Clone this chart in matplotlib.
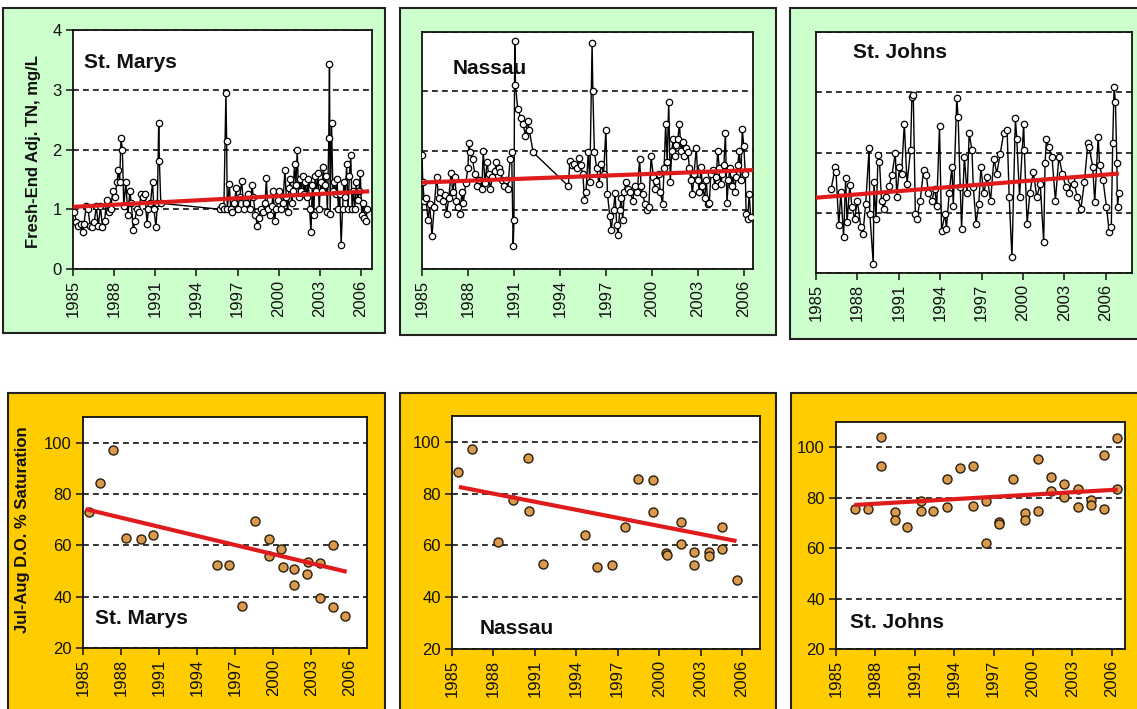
import matplotlib
matplotlib.use('Agg')
import numpy as np
import matplotlib.pyplot as plt
from matplotlib.patches import Rectangle

plt.rcParams['font.family'] = ['Liberation Sans', 'DejaVu Sans']

# ---- data ----
# fresh-end adjusted TN (mg/L): (decimal year, value)
st_marys_tn = [
    (1985.10, 0.95), (1985.25, 0.78), (1985.40, 0.72), (1985.55, 0.75), (1985.70, 0.62), (1985.80, 0.75),
    (1985.95, 1.05), (1986.10, 1.00), (1986.25, 0.72), (1986.40, 0.70), (1986.55, 0.78), (1986.70, 1.05),
    (1986.85, 0.72), (1987.00, 1.05), (1987.15, 0.70), (1987.30, 0.80), (1987.45, 1.15), (1987.60, 0.95),
    (1987.75, 1.00), (1987.90, 1.30), (1988.05, 1.20), (1988.20, 1.45), (1988.30, 1.65), (1988.40, 1.45),
    (1988.50, 2.20), (1988.60, 2.00), (1988.70, 1.05), (1988.85, 1.45), (1989.00, 0.90), (1989.15, 1.30),
    (1989.25, 1.10), (1989.40, 0.65), (1989.50, 0.80), (1989.65, 1.00), (1989.80, 0.95), (1989.95, 1.25),
    (1990.10, 1.20), (1990.25, 1.25), (1990.40, 0.75), (1990.50, 1.00), (1990.65, 1.10), (1990.80, 1.45),
    (1990.90, 1.00), (1991.05, 0.70), (1991.15, 1.10), (1991.25, 2.45), (1991.30, 1.80), (1991.40, 1.10),
    (1995.70, 1.00), (1995.85, 1.05), (1996.00, 1.00), (1996.15, 2.95), (1996.20, 2.15), (1996.25, 1.00),
    (1996.40, 1.42), (1996.50, 1.00), (1996.60, 0.95), (1996.75, 1.10), (1996.90, 1.35), (1997.00, 1.00),
    (1997.15, 1.20), (1997.30, 1.47), (1997.45, 1.00), (1997.60, 1.10), (1997.75, 1.25), (1997.90, 1.00),
    (1998.05, 1.40), (1998.15, 1.20), (1998.30, 0.90), (1998.45, 0.72), (1998.55, 0.85), (1998.70, 1.00),
    (1998.85, 0.95), (1999.00, 1.10), (1999.10, 1.52), (1999.20, 1.00), (1999.35, 0.90), (1999.50, 1.05),
    (1999.60, 1.30), (1999.70, 0.80), (1999.80, 1.00), (1999.95, 1.15), (2000.05, 1.30), (2000.15, 1.00),
    (2000.30, 1.10), (2000.45, 1.65), (2000.55, 1.20), (2000.65, 0.95), (2000.75, 1.35), (2000.85, 1.50),
    (2000.95, 1.10), (2001.05, 1.30), (2001.15, 1.75), (2001.25, 1.40), (2001.35, 2.00), (2001.45, 1.20),
    (2001.55, 1.50), (2001.65, 1.30), (2001.75, 1.55), (2001.85, 1.25), (2001.95, 1.45), (2002.05, 1.20),
    (2002.15, 1.50), (2002.25, 1.00), (2002.35, 0.62), (2002.45, 1.40), (2002.55, 0.90), (2002.65, 1.55),
    (2002.75, 1.30), (2002.85, 1.60), (2002.95, 1.00), (2003.05, 1.45), (2003.15, 1.30), (2003.25, 1.70),
    (2003.35, 1.40), (2003.45, 1.55), (2003.55, 0.95), (2003.65, 2.20), (2003.70, 3.43), (2003.75, 0.92),
    (2003.85, 2.45), (2003.95, 1.30), (2004.05, 1.45), (2004.15, 1.25), (2004.25, 1.50), (2004.35, 1.00),
    (2004.45, 1.25), (2004.55, 0.40), (2004.65, 1.00), (2004.75, 1.45), (2004.85, 1.20), (2004.95, 1.75),
    (2005.05, 1.00), (2005.15, 1.55), (2005.25, 1.90), (2005.35, 1.00), (2005.45, 1.30), (2005.55, 1.00),
    (2005.65, 1.45), (2005.75, 1.15), (2005.85, 1.30), (2005.95, 1.60), (2006.05, 0.90), (2006.15, 1.10),
    (2006.25, 0.85), (2006.35, 0.80), (2006.45, 1.00),
]
nassau_tn = [
    (1985.00, 1.93), (1985.05, 1.46), (1985.15, 1.15), (1985.25, 1.20), (1985.40, 0.82), (1985.50, 1.10),
    (1985.65, 0.56), (1985.80, 1.05), (1985.95, 1.55), (1986.10, 1.20), (1986.20, 1.30), (1986.35, 1.15),
    (1986.50, 1.25), (1986.60, 0.93), (1986.75, 1.20), (1986.90, 1.62), (1987.00, 1.30), (1987.15, 1.55),
    (1987.25, 1.15), (1987.35, 1.05), (1987.50, 0.93), (1987.60, 1.30), (1987.70, 1.12), (1987.85, 1.45),
    (1988.00, 1.70), (1988.05, 2.13), (1988.15, 1.97), (1988.30, 1.85), (1988.45, 1.60), (1988.60, 1.40),
    (1988.75, 1.50), (1988.90, 1.35), (1989.00, 2.00), (1989.10, 1.45), (1989.25, 1.80), (1989.35, 1.60),
    (1989.45, 1.35), (1989.60, 1.55), (1989.75, 1.65), (1989.85, 1.80), (1990.00, 1.70), (1990.10, 1.63),
    (1990.25, 1.50), (1990.35, 1.40), (1990.50, 1.50), (1990.60, 1.35), (1990.75, 1.85), (1990.85, 1.97),
    (1990.95, 0.38), (1991.00, 0.82), (1991.05, 3.84), (1991.10, 3.10), (1991.25, 2.70), (1991.45, 2.55),
    (1991.60, 2.45), (1991.75, 2.25), (1991.90, 2.50), (1992.00, 2.35), (1992.25, 1.97), (1994.55, 1.40),
    (1994.65, 1.82), (1994.80, 1.75), (1994.95, 1.78), (1995.10, 1.70), (1995.25, 1.88), (1995.35, 1.75),
    (1995.50, 1.60), (1995.60, 1.17), (1995.70, 1.30), (1995.85, 1.97), (1995.95, 1.46), (1996.10, 3.82),
    (1996.15, 3.00), (1996.25, 1.97), (1996.40, 1.70), (1996.55, 1.43), (1996.70, 1.78), (1996.85, 1.60),
    (1997.00, 2.35), (1997.10, 1.27), (1997.25, 0.90), (1997.35, 0.66), (1997.50, 1.00), (1997.60, 1.29),
    (1997.70, 0.75), (1997.80, 0.57), (1997.90, 1.00), (1998.00, 1.20), (1998.10, 0.82), (1998.20, 1.30),
    (1998.30, 1.46), (1998.45, 1.35), (1998.60, 1.30), (1998.75, 1.15), (1998.90, 1.40), (1999.05, 1.30),
    (1999.20, 1.85), (1999.30, 1.40), (1999.40, 1.27), (1999.55, 1.10), (1999.70, 0.99), (1999.80, 1.05),
    (1999.95, 1.90), (2000.10, 1.55), (2000.20, 1.35), (2000.30, 1.48), (2000.45, 1.60), (2000.55, 1.30),
    (2000.70, 1.10), (2000.80, 1.70), (2000.90, 2.45), (2001.00, 1.80), (2001.10, 2.82), (2001.20, 1.46),
    (2001.30, 2.00), (2001.40, 2.20), (2001.50, 1.90), (2001.60, 2.10), (2001.70, 2.20), (2001.80, 2.45),
    (2001.90, 2.00), (2002.00, 2.14), (2002.10, 1.90), (2002.25, 2.05), (2002.35, 1.98), (2002.45, 1.70),
    (2002.55, 1.50), (2002.65, 1.27), (2002.75, 1.60), (2002.90, 2.05), (2003.00, 1.50), (2003.10, 1.30),
    (2003.20, 1.72), (2003.30, 1.40), (2003.45, 1.20), (2003.55, 1.50), (2003.65, 1.10), (2003.75, 1.12),
    (2003.85, 1.60), (2004.00, 1.67), (2004.10, 1.40), (2004.20, 1.55), (2004.30, 2.00), (2004.40, 1.70),
    (2004.50, 1.43), (2004.60, 1.60), (2004.70, 1.75), (2004.80, 2.30), (2004.90, 1.12), (2005.00, 1.50),
    (2005.10, 1.70), (2005.20, 1.40), (2005.30, 1.60), (2005.40, 1.30), (2005.50, 1.55), (2005.60, 1.75),
    (2005.70, 2.00), (2005.80, 1.50), (2005.90, 2.36), (2006.00, 2.07), (2006.10, 1.60), (2006.15, 0.93),
    (2006.25, 0.85), (2006.35, 1.27), (2006.45, 0.88),
]
st_johns_tn = [
    (1986.10, 1.40), (1986.40, 1.76), (1986.45, 1.68), (1986.65, 0.79), (1986.80, 1.34), (1987.00, 0.60),
    (1987.15, 1.57), (1987.25, 0.84), (1987.45, 1.46), (1987.60, 1.10), (1987.80, 0.90), (1988.00, 1.20),
    (1988.25, 0.76), (1988.40, 0.65), (1988.60, 1.15), (1988.85, 2.07), (1988.90, 0.98), (1989.15, 0.15),
    (1989.20, 1.51), (1989.35, 0.90), (1989.50, 1.96), (1989.60, 1.85), (1989.75, 1.20), (1989.90, 1.07),
    (1990.10, 1.26), (1990.30, 1.45), (1990.50, 1.62), (1990.75, 2.00), (1990.85, 1.26), (1991.05, 1.76),
    (1991.20, 1.65), (1991.40, 2.48), (1991.60, 1.48), (1991.85, 2.04), (1991.95, 2.92), (1992.05, 2.95),
    (1992.20, 0.98), (1992.30, 0.90), (1992.55, 1.20), (1992.80, 1.71), (1993.00, 1.62), (1993.15, 1.32),
    (1993.40, 1.20), (1993.60, 1.40), (1993.75, 1.12), (1993.95, 2.44), (1994.10, 0.70), (1994.35, 0.98),
    (1994.45, 0.73), (1994.65, 1.32), (1994.85, 1.76), (1994.95, 1.12), (1995.20, 2.90), (1995.30, 2.59),
    (1995.45, 1.43), (1995.55, 0.73), (1995.75, 1.93), (1995.95, 1.32), (1996.10, 2.32), (1996.30, 2.04),
    (1996.40, 1.43), (1996.60, 0.82), (1996.80, 1.15), (1996.95, 1.76), (1997.15, 1.32), (1997.40, 1.60),
    (1997.65, 1.20), (1997.90, 1.90), (1998.10, 1.65), (1998.35, 1.98), (1998.60, 2.32), (1998.85, 2.37),
    (1999.00, 1.26), (1999.20, 0.26), (1999.45, 2.57), (1999.55, 2.23), (1999.75, 1.26), (2000.05, 2.48),
    (2000.10, 2.04), (2000.30, 0.82), (2000.50, 1.32), (2000.75, 1.68), (2001.00, 1.26), (2001.25, 1.48),
    (2001.50, 0.51), (2001.60, 1.82), (2001.70, 2.23), (2001.85, 2.09), (2002.10, 1.93), (2002.35, 1.20),
    (2002.60, 1.93), (2002.85, 1.65), (2003.10, 1.43), (2003.35, 1.32), (2003.50, 1.55), (2003.70, 1.48),
    (2003.95, 1.26), (2004.20, 1.07), (2004.45, 1.51), (2004.70, 2.15), (2004.80, 2.09), (2005.05, 1.76),
    (2005.20, 1.18), (2005.45, 2.26), (2005.55, 1.79), (2005.80, 1.54), (2006.05, 1.10), (2006.25, 0.68),
    (2006.40, 0.76), (2006.50, 2.15), (2006.60, 3.08), (2006.70, 2.84), (2006.80, 1.82), (2006.85, 1.10),
    (2006.95, 1.32),
]
# trend line end points (year, TN)
st_marys_tn_trend = [(1985.0, 1.04), (2006.6, 1.30)]
nassau_tn_trend = [(1985.0, 1.46), (2006.6, 1.67)]
st_johns_tn_trend = [(1985.0, 1.25), (2006.95, 1.65)]

# Jul-Aug dissolved oxygen, % saturation
st_marys_do = [
    (1985.45, 73.0), (1986.35, 84.2), (1987.40, 97.0), (1988.40, 62.9), (1989.55, 62.5), (1990.55, 64.2),
    (1995.55, 52.2), (1996.50, 52.2), (1997.55, 36.5), (1998.60, 69.4), (1999.70, 62.5), (1999.70, 55.7),
    (2000.65, 58.4), (2000.75, 51.5), (2001.65, 50.8), (2001.65, 44.5), (2002.70, 48.8), (2002.75, 53.5),
    (2003.70, 53.0), (2003.70, 39.3), (2004.70, 60.0), (2004.70, 35.8), (2005.70, 32.3),
]
nassau_do = [
    (1985.40, 88.2), (1986.45, 97.3), (1988.35, 61.3), (1989.45, 77.6), (1990.50, 93.6), (1990.55, 73.3),
    (1991.60, 52.9), (1994.60, 64.1), (1995.50, 51.5), (1996.55, 52.3), (1997.50, 67.0), (1998.50, 85.6),
    (1999.55, 85.3), (1999.55, 72.8), (2000.50, 56.9), (2000.60, 56.5), (2001.60, 69.0), (2001.60, 60.6),
    (2002.55, 57.3), (2002.55, 52.3), (2003.60, 57.4), (2003.60, 55.8), (2004.55, 67.0), (2004.55, 58.7),
    (2005.60, 46.7),
]
st_johns_do = [
    (1986.45, 75.5), (1987.40, 75.5), (1988.45, 104.2), (1988.45, 92.5), (1989.50, 74.2), (1989.50, 71.2),
    (1990.40, 68.3), (1991.50, 78.8), (1991.50, 74.9), (1992.40, 74.9), (1993.45, 87.3), (1993.45, 76.2),
    (1994.45, 91.9), (1995.40, 92.5), (1995.40, 76.8), (1996.45, 78.8), (1996.45, 62.0), (1997.40, 70.2),
    (1997.40, 69.7), (1998.45, 87.3), (1999.40, 73.8), (1999.40, 71.2), (2000.35, 95.4), (2000.35, 74.9),
    (2001.40, 88.0), (2001.40, 82.7), (2002.35, 85.4), (2002.35, 80.4), (2003.45, 83.4), (2003.45, 76.4),
    (2004.40, 79.0), (2004.40, 77.1), (2005.40, 75.5), (2005.40, 97.0), (2006.40, 103.5), (2006.40, 83.4),
]
st_marys_do_trend = [(1985.2, 74.1), (2005.8, 49.7)]
nassau_do_trend = [(1985.5, 82.6), (2005.6, 61.7)]
st_johns_do_trend = [(1986.4, 77.1), (2006.45, 83.2)]

year_ticks = [1985, 1988, 1991, 1994, 1997, 2000, 2003, 2006]
tn_ticks = [0, 1, 2, 3, 4]
do_ticks = [20, 40, 60, 80, 100]

# ---- layout (pixels) ----
W, H = 1137, 709
fig = plt.figure(figsize=(W / 100, H / 100), dpi=100)
fig.patch.set_facecolor('white')


def frame(x0, y0, x1, y1, color):
    fig.patches.append(Rectangle((x0 / W, 1 - y1 / H), (x1 - x0) / W, (y1 - y0) / H,
                                 transform=fig.transFigure, facecolor=color,
                                 edgecolor='#222222', lw=1.5, zorder=-5))


def panel(l, t, r, b):
    ax = fig.add_axes([l / W, 1 - b / H, (r - l) / W, (b - t) / H], zorder=2)
    ax.set_facecolor('white')
    for s in ax.spines.values():
        s.set_linewidth(1.3)
        s.set_color('#111111')
    ax.tick_params(length=5, width=1.1, labelsize=12, pad=3, colors='#111111')
    ax.set_xticks(year_ticks)
    ax.set_xticklabels([str(y) for y in year_ticks], rotation=90)
    ax.grid(axis='y', color='#111111', linestyle=(0, (3.5, 2.5)), lw=1.2)
    ax.set_axisbelow(True)
    return ax


def label(x, y, s):
    fig.text(x / W, 1 - y / H, s, fontsize=15, fontweight='bold', ha='left', va='center',
             color='#111111', zorder=10)


green = '#ccffcc'
gold = '#ffcc00'
frame(3, 8, 385, 333, green)
frame(400, 8, 776, 335, green)
frame(790, 8, 1150, 339, green)
frame(8, 393, 385, 720, gold)
frame(400, 393, 776, 720, gold)
frame(791, 393, 1150, 720, gold)

top_specs = [
    ((73, 30, 372, 269), st_marys_tn, st_marys_tn_trend, 2006.8, True, (84, 63), 'St. Marys'),
    ((422, 32, 753, 269), nassau_tn, nassau_tn_trend, 2006.6, False, (453, 68), 'Nassau'),
    ((816, 32, 1132, 273), st_johns_tn, st_johns_tn_trend, 2007.9, False, (853, 53), 'St. Johns'),
]
for box, series, trend, xmax, show_y, pos, name in top_specs:
    ax = panel(*box)
    x, y = zip(*series)
    ax.plot(x, y, color='black', lw=1.0, marker='o', ms=4.6, mfc='white', mec='black', mew=0.9,
            zorder=3)
    tx, ty = zip(*trend)
    ax.plot(tx, ty, color='#e01b1b', lw=3, solid_capstyle='butt', zorder=4)
    ax.set_xlim(1985, xmax)
    ax.set_ylim(0, 4)
    ax.set_yticks(tn_ticks)
    if not show_y:
        ax.tick_params(axis='y', left=False, labelleft=False)
    label(pos[0], pos[1], name)

fig.text(34 / W, 1 - 151 / H, 'Fresh-End Adj. TN, mg/L', rotation=90, fontsize=12,
         fontweight='bold', ha='center', va='center', color='#111111')

bottom_specs = [
    ((83, 417, 367, 648), st_marys_do, st_marys_do_trend, 2007.4, (95, 619), 'St. Marys'),
    ((452, 416, 760, 649), nassau_do, nassau_do_trend, 2007.3, (480, 629), 'Nassau'),
    ((836, 422, 1125, 649), st_johns_do, st_johns_do_trend, 2007.0, (850, 622), 'St. Johns'),
]
for box, series, trend, xmax, pos, name in bottom_specs:
    ax = panel(*box)
    x, y = zip(*series)
    ax.plot(x, y, linestyle='none', marker='o', ms=6.5, mfc='#d99a4e', mec='#2a1e0c', mew=1.0,
            zorder=3)
    tx, ty = zip(*trend)
    ax.plot(tx, ty, color='#e01b1b', lw=3, solid_capstyle='butt', zorder=4)
    ax.set_xlim(1985, xmax)
    ax.set_ylim(20, 110)
    ax.set_yticks(do_ticks)
    label(pos[0], pos[1], name)

fig.text(23 / W, 1 - 530 / H, 'Jul-Aug D.O. % Saturation', rotation=90, fontsize=12,
         fontweight='bold', ha='center', va='center', color='#111111')

fig.savefig('out.png', dpi=100)
